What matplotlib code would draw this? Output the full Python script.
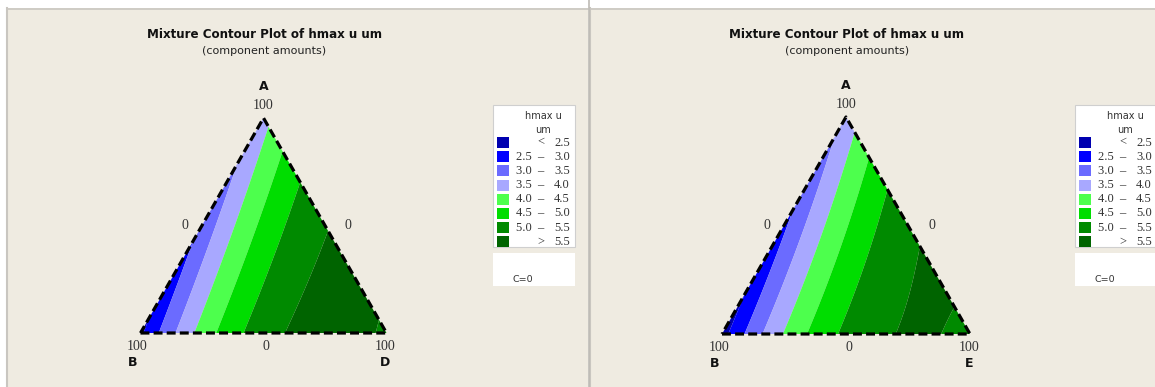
import numpy as np
import matplotlib.pyplot as plt
import matplotlib.tri as mtri
from matplotlib.patches import Rectangle
from matplotlib.lines import Line2D

# fitted quadratic mixture models (Scheffe form), component amounts, C = 0
# linear terms: A, B, third component; blending terms: AB, A*third, B*third
left_components = ["A", "B", "D"]
left_linear = [3.8, 2.4, 5.4]
left_blend = [0.0, 3.45, 5.52]

right_components = ["A", "B", "E"]
right_linear = [3.65, 2.3, 5.32]
right_blend = [-0.3, 3.55, 5.17]

band_edges = [2.5, 3.0, 3.5, 4.0, 4.5, 5.0, 5.5]
band_colors = ["#0000b0", "#0000ff", "#6b6bff", "#a8a8ff",
               "#4dff4d", "#00dd00", "#008a00", "#006400"]
response = "hmax u um"

W, H = 1155, 387
BG = "#efebe1"
S3 = np.sqrt(3) / 2

fig = plt.figure(figsize=(W / 100, H / 100), dpi=100)
fig.patch.set_facecolor("white")


def px(x, y):
    return x / W, 1 - y / H


def fig_rect(x0, y0, x1, y1, **kw):
    r = Rectangle(px(x0, y1), (x1 - x0) / W, (y1 - y0) / H,
                  transform=fig.transFigure, **kw)
    fig.patches.append(r)


def fig_line(xs, ys, **kw):
    fx = [x / W for x in xs]
    fy = [1 - y / H for y in ys]
    fig.lines.append(Line2D(fx, fy, transform=fig.transFigure, **kw))


def model(lin, blend, a, b, c):
    return (lin[0] * a + lin[1] * b + lin[2] * c
            + blend[0] * a * b + blend[1] * a * c + blend[2] * b * c)


def draw_panel(x0, x1, tri_box, legend_x, names, lin, blend):
    # panel background and frame
    fig_rect(x0, 8, x1, H, facecolor=BG, edgecolor="none", zorder=-2)
    fig_line([x0, x0], [8, H], color="#c9c6c0", lw=1.5, zorder=-1)
    fig_line([x0, x1], [8.5, 8.5], color="#c9c6c0", lw=1.2, zorder=-1)

    cx = (tri_box[0] + tri_box[2] / 2)
    fig.text(*px(cx + 1, 34), "Mixture Contour Plot of " + response,
             ha="center", va="center", fontsize=8.6, fontweight="bold",
             color="#111111")
    fig.text(*px(cx + 1, 51), "(component amounts)", ha="center",
             va="center", fontsize=8, color="#222222")

    # ternary contour
    left, top_y, width, height = tri_box
    ax = fig.add_axes([left / W, 1 - (top_y + height) / H, width / W, height / H])
    ax.set_zorder(1)
    ax.set_xlim(0, 1)
    ax.set_ylim(0, S3)
    ax.axis("off")

    n = 160
    pts = [(i / n, j / n) for i in range(n + 1) for j in range(n + 1 - i)]
    a = np.array([p[0] for p in pts])
    c = np.array([p[1] for p in pts])
    b = 1 - a - c
    x = c + a / 2
    y = a * S3
    z = model(lin, blend, a, b, c)
    tri = mtri.Triangulation(x, y)
    levels = [-100] + band_edges + [100]
    ax.tricontourf(tri, z, levels=levels, colors=band_colors, antialiased=True)

    ax.plot([0, 1, 0.5, 0], [0, 0, S3, 0], color="black", lw=2.3,
            linestyle=(0, (2.8, 1.3)), clip_on=False, solid_capstyle="butt")

    serif = dict(family="Liberation Serif", fontsize=10, color="#333333",
                 ha="center", va="center")
    bold = dict(fontsize=9, fontweight="bold", color="#111111",
                ha="center", va="center")
    ax.text(0.5, S3 + 0.125, names[0], clip_on=False, **bold)
    ax.text(0.5, S3 + 0.05, "100", clip_on=False, **serif)
    ax.text(0.18, 0.435, "0", clip_on=False, **serif)
    ax.text(0.845, 0.435, "0", clip_on=False, **serif)
    ax.text(-0.012, -0.055, "100", clip_on=False, **serif)
    ax.text(0.51, -0.055, "0", clip_on=False, **serif)
    ax.text(0.995, -0.055, "100", clip_on=False, **serif)
    ax.text(-0.03, -0.118, names[1], clip_on=False, **bold)
    ax.text(0.995, -0.118, names[2], clip_on=False, **bold)

    # legend boxes
    lx = legend_x
    fig_rect(lx, 105, lx + 82, 247, facecolor="white", edgecolor="#cfcfcf",
             lw=0.8, zorder=2)
    fig_rect(lx, 253, lx + 82, 286, facecolor="white", edgecolor="none",
             zorder=2)
    fig.text(*px(lx + 50, 116), "hmax u", ha="center", va="center",
             fontsize=7, color="#333333", zorder=3)
    fig.text(*px(lx + 50, 130), "um", ha="center", va="center",
             fontsize=7, color="#333333", zorder=3)
    fig.text(*px(lx + 30, 279), "C=0", ha="center", va="center",
             fontsize=6.8, color="#333333", zorder=3)

    num = dict(family="Liberation Serif", fontsize=9, color="#333333",
               va="center", zorder=3)
    for k, col in enumerate(band_colors):
        yc = 142.5 + 14.2 * k
        fig_rect(lx + 4, yc - 5.5, lx + 16, yc + 5.5, facecolor=col,
                 edgecolor="none", zorder=3)
        if k == 0:
            fig.text(*px(lx + 48, yc), "<", ha="center", **num)
            fig.text(*px(lx + 77, yc), f"{band_edges[0]:.1f}", ha="right", **num)
        elif k == len(band_colors) - 1:
            fig.text(*px(lx + 48, yc), ">", ha="center", **num)
            fig.text(*px(lx + 77, yc), f"{band_edges[-1]:.1f}", ha="right", **num)
        else:
            fig.text(*px(lx + 23, yc), f"{band_edges[k - 1]:.1f}  \u2013",
                     ha="left", **num)
            fig.text(*px(lx + 77, yc), f"{band_edges[k]:.1f}", ha="right", **num)


draw_panel(7, 588, (140.5, 118, 246, 215), 493,
           left_components, left_linear, left_blend)
draw_panel(590, W, (722, 117, 248, 217), 1075,
           right_components, right_linear, right_blend)

# divider between the two panels
fig_line([588.5, 588.5], [0, H], color="#bdbab4", lw=1.2, zorder=-1)

fig.savefig("out.png", dpi=100, facecolor=fig.get_facecolor())
